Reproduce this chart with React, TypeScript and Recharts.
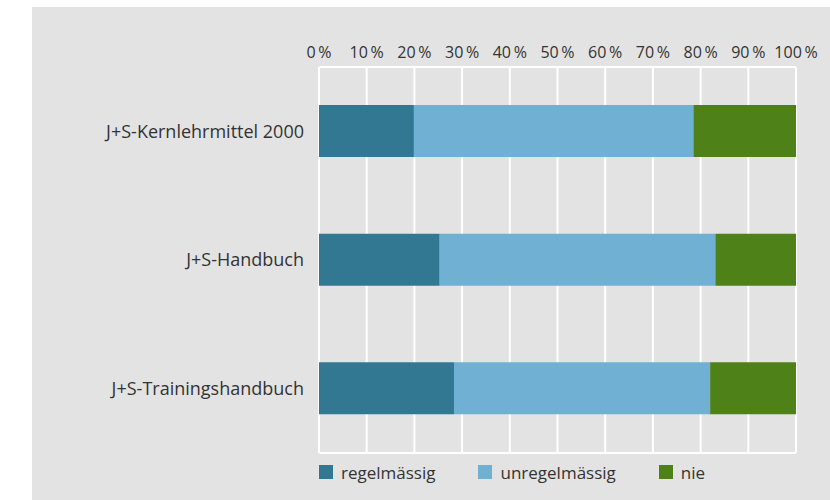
import React from "react";
import { BarChart, Bar, XAxis, YAxis, CartesianGrid, Legend } from "recharts";

const categories = ["J+S-Kernlehrmittel 2000", "J+S-Handbuch", "J+S-Trainingshandbuch"];
const regelmaessig = [19.9, 25.3, 28.3];
const unregelmaessig = [58.6, 57.8, 53.7];
const nie = [21.5, 16.9, 18.0];
const xTicks = [0, 10, 20, 30, 40, 50, 60, 70, 80, 90, 100];

const seriesNames = ["regelmässig", "unregelmässig", "nie"];
const seriesColors = ["#337893", "#6fb0d3", "#4f8119"];

const data = categories.map((name, i) => ({
  name,
  regelmaessig: regelmaessig[i],
  unregelmaessig: unregelmaessig[i],
  nie: nie[i],
}));

const FONT = "'Open Sans', 'Noto Sans', sans-serif";
const TEXT = "#333333";

const renderLegend = () => (
  <div style={{ display: "flex", alignItems: "center", height: 24, paddingLeft: 319, fontFamily: FONT, fontSize: 17, color: TEXT }}>
    {seriesNames.map((n, i) => (
      <div key={n} style={{ display: "flex", alignItems: "center", marginRight: 43 }}>
        <div style={{ width: 14, height: 14, background: seriesColors[i], marginRight: 8 }} />
        <span>{n}</span>
      </div>
    ))}
  </div>
);

export default function App() {
  return (
    <div style={{ position: "absolute", left: 0, top: 0, width: 830, height: 500, background: "#ffffff", overflow: "hidden" }}>
      <div style={{ position: "absolute", left: 32, top: 7, width: 798, height: 493, background: "#e3e3e3" }} />
      <div style={{ position: "absolute", left: 0, top: 0 }}>
        <BarChart
          width={830}
          height={500}
          layout="vertical"
          data={data}
          margin={{ top: 30, right: 34, bottom: 23, left: 0 }}
        >
          <CartesianGrid
            stroke="#ffffff"
            strokeWidth={2}
            vertical={true}
            horizontal={true}
            horizontalCoordinatesGenerator={({ offset }: any) => [offset.top, offset.top + offset.height]}
          />
          <XAxis
            type="number"
            orientation="top"
            domain={[0, 100]}
            ticks={xTicks}
            interval={0}
            height={37}
            axisLine={false}
            tickLine={false}
            tickSize={0}
            tickMargin={9}
            tickFormatter={(v: number) => `${v}\u2009%`}
            tick={{ fill: TEXT, fontSize: 16, fontFamily: FONT }}
          />
          <YAxis
            type="category"
            dataKey="name"
            width={319}
            axisLine={false}
            tickLine={false}
            tickSize={0}
            tickMargin={15}
            tick={{ fill: TEXT, fontSize: 18, fontFamily: FONT }}
          />
          <Legend verticalAlign="bottom" content={renderLegend} wrapperStyle={{ left: 0, width: 830, bottom: 16 }} />
          <Bar dataKey="regelmaessig" name={seriesNames[0]} stackId="a" fill={seriesColors[0]} barSize={52} isAnimationActive={false} />
          <Bar dataKey="unregelmaessig" name={seriesNames[1]} stackId="a" fill={seriesColors[1]} barSize={52} isAnimationActive={false} />
          <Bar dataKey="nie" name={seriesNames[2]} stackId="a" fill={seriesColors[2]} barSize={52} isAnimationActive={false} />
        </BarChart>
      </div>
    </div>
  );
}
